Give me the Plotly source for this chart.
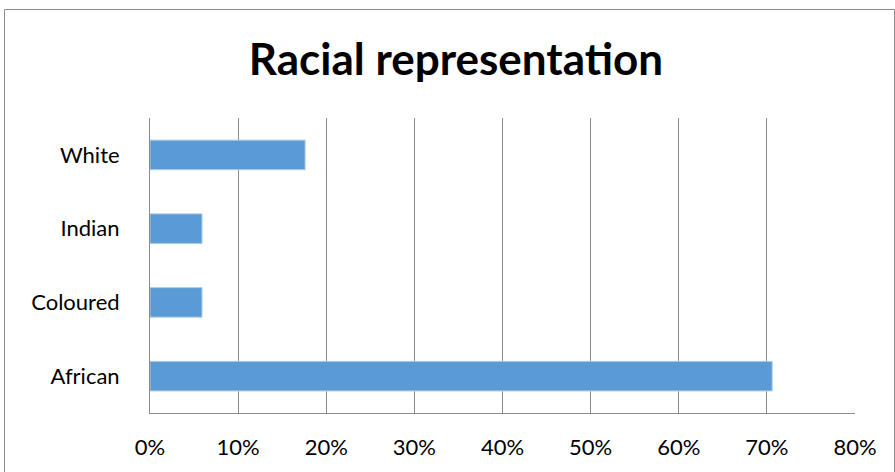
import plotly.graph_objects as go

# Share of each racial group (fraction of total)
groups = ["African", "Coloured", "Indian", "White"]
shares = [0.706, 0.059, 0.059, 0.176]
tick_vals = [0, 0.1, 0.2, 0.3, 0.4, 0.5, 0.6, 0.7, 0.8]
tick_text = ["0%", "10%", "20%", "30%", "40%", "50%", "60%", "70%", "80%"]

W, H = 895, 472
L, R, T, B = 150, 40, 118, 59
pw, ph = W - L - R, H - T - B

fig = go.Figure(
    go.Bar(
        x=shares,
        y=groups,
        orientation="h",
        width=0.4,
        marker=dict(color="#5B9BD5", line=dict(color="#A9C8EA", width=1)),
    )
)

# Outer chart-area frame
fig.add_shape(
    type="rect", xref="paper", yref="paper",
    x0=(4.5 - L) / pw, x1=(894.5 - L) / pw,
    y0=-0.3, y1=(H - B - 9.5) / ph,
    line=dict(color="#8C8C8C", width=1), fillcolor="rgba(0,0,0,0)", layer="below",
)

fig.update_layout(
    width=W, height=H,
    margin=dict(l=L, r=R, t=T, b=B, autoexpand=False),
    paper_bgcolor="white", plot_bgcolor="white",
    font=dict(family="Lato, Open Sans, sans-serif", color="#000000", size=22),
    showlegend=False,
    title=dict(
        text="<b>Racial representation</b>",
        font=dict(size=44, family="Lato, Open Sans, sans-serif", color="#000000"),
        xref="container", x=456 / W, xanchor="center",
        yref="container", y=1 - 60 / H, yanchor="middle",
    ),
    xaxis=dict(
        range=[0, 0.8], tickvals=tick_vals, ticktext=tick_text,
        showgrid=True, gridcolor="#8C8C8C", gridwidth=1,
        showline=True, linecolor="#8C8C8C", linewidth=1,
        zeroline=False, ticks="outside", ticklen=15, tickcolor="rgba(0,0,0,0)",
        tickfont=dict(size=22), fixedrange=True, automargin=False,
    ),
    yaxis=dict(
        categoryorder="array", categoryarray=groups,
        showgrid=False, showline=True, linecolor="#8C8C8C", linewidth=1,
        zeroline=False, ticks="outside", ticklen=25, tickcolor="rgba(0,0,0,0)",
        tickfont=dict(size=22), fixedrange=True, automargin=False,
    ),
)

fig.write_html("out.html")
